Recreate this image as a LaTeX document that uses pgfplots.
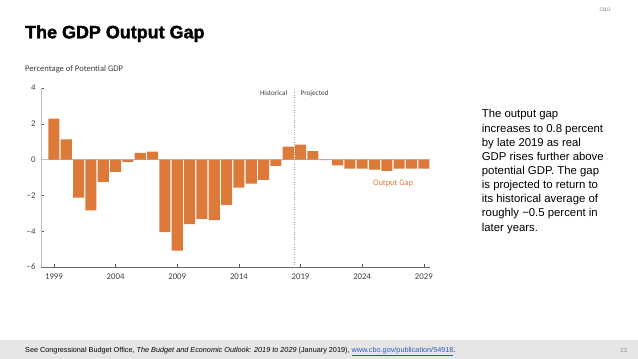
\documentclass[border=0pt]{standalone}
\usepackage{pgfplots}
\pgfplotsset{compat=1.18}
\usepackage{fontspec}
\setmainfont{Liberation Sans}
\newfontfamily\chartfont{Carlito}
\newfontfamily\titlefont{Liberation Sans}[BoldFeatures={FakeBold=1.8}]
\definecolor{cboorange}{RGB}{221,122,58}
\definecolor{ticktext}{RGB}{64,64,64}
\definecolor{footgray}{RGB}{230,230,230}
\definecolor{linkblue}{RGB}{40,90,190}
\begin{document}
\begin{tikzpicture}
\useasboundingbox (0,0) rectangle (638bp,359bp);
\fill[white] (0,0) rectangle (638bp,359bp);
\fill[footgray] (0,0) rectangle (638bp,19bp);
\node[anchor=base west, inner sep=0] at (25bp,320.7bp) {\titlefont\bfseries\fontsize{18}{20}\selectfont The GDP Output Gap};
\node[anchor=base west, inner sep=0, text=ticktext] at (25bp,287bp) {\chartfont\fontsize{8.6}{10}\selectfont Percentage of Potential GDP};
\node[anchor=north west, inner sep=0, align=left, font=\fontsize{11.4}{14.2}\selectfont] at (481.7bp,249.5bp) {The output gap\\increases to 0.8 percent\\by late 2019 as real\\GDP rises further above\\potential GDP. The gap\\is projected to return to\\its historical average of\\roughly −0.5 percent in\\later years.};
\node[anchor=base west, inner sep=0, font=\fontsize{7.3}{8}\selectfont] at (25bp,6.8bp) {See Congressional Budget Office, \textit{The Budget and Economic Outlook: 2019 to 2029} (January 2019), \textcolor{linkblue}{\underline{www.cbo.gov/publication/54918}}.};
\node[anchor=base east, inner sep=0, font=\fontsize{5.5}{6}\selectfont, text=gray] at (627bp,6.8bp) {23};
\node[inner sep=0, font=\fontsize{5}{6}\selectfont, text=gray] at (605bp,349bp) {CBO};
\begin{axis}[
  at={(41bp,92bp)}, anchor=south west, scale only axis,
  width=389bp, height=179bp,
  xmin=1997.95, xmax=2029.5, ymin=-6, ymax=4,
  axis lines*=left,
  x axis line style={draw=gray!80!black, line width=0.6pt},
  y axis line style={draw=gray!50, line width=0.4pt},
  xtick={1999,2004,...,2029}, ytick={-6,-4,...,4},
  yticklabels={−6,−4,−2,0,2,4},
  tick align=inside, major tick length=3bp,
  tick style={draw=gray!70!black, line width=0.4pt},
  /pgf/number format/assume math mode=true,
  xticklabel style={/pgf/number format/1000 sep={}, yshift=-3bp},
  yticklabel style={xshift=-2bp},
  ticklabel style={font=\chartfont\fontsize{8.8}{10}\selectfont, text=ticktext},
  clip=false,
]
\draw[gray!50, line width=0.4pt] (axis cs:1997.95,0) -- (axis cs:2029.5,0);
\addplot[ybar, bar width=0.9, bar shift=0pt, fill=cboorange, draw=none] coordinates {
(1999,2.29) (2000,1.13) (2001,-2.12) (2002,-2.83) (2003,-1.25) (2004,-0.69)
(2005,-0.13) (2006,0.37) (2007,0.45) (2008,-4.05) (2009,-5.09) (2010,-3.61)
(2011,-3.31) (2012,-3.38) (2013,-2.53) (2014,-1.56) (2015,-1.34) (2016,-1.13)
(2017,-0.35) (2018,0.72) (2019,0.84) (2020,0.48) (2021,-0.03) (2022,-0.32)
(2023,-0.5) (2024,-0.5) (2025,-0.56) (2026,-0.63) (2027,-0.5) (2028,-0.5) (2029,-0.5)
};
\draw[dotted, gray!70, line width=0.5pt] (axis cs:2018.5,-6) -- (axis cs:2018.5,4);
\node[anchor=east, inner sep=0, font=\chartfont\fontsize{7.2}{8}\selectfont, text=ticktext, xshift=-7bp] at (axis cs:2018.5,3.7) {Historical};
\node[anchor=west, inner sep=0, font=\chartfont\fontsize{7.2}{8}\selectfont, text=ticktext, xshift=6bp] at (axis cs:2018.5,3.7) {Projected};
\node[inner sep=0, font=\chartfont\fontsize{8.4}{10}\selectfont, text=cboorange] at (axis cs:2026.5,-1.34) {Output Gap};
\end{axis}
\end{tikzpicture}
\end{document}
